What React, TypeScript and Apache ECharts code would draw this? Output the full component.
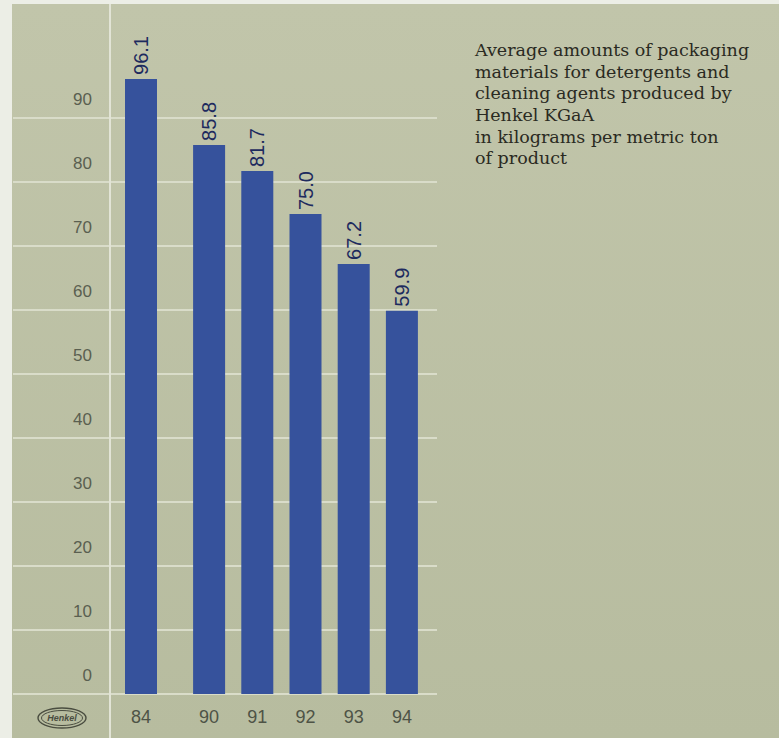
import React, { useEffect, useRef } from "react";
import * as echarts from "echarts";

const years = ["84", "90", "91", "92", "93", "94"];
const values = [96.1, 85.8, 81.7, 75.0, 67.2, 59.9];
const yMin = 0;
const yMax = 90;
const yStep = 10;
const noteLines = [
  "Average amounts of packaging",
  "materials for detergents and",
  "cleaning agents produced by",
  "Henkel KGaA",
  "in kilograms per metric ton",
  "of product",
];

export default function App() {
  const ref = useRef<HTMLDivElement>(null);
  useEffect(() => {
    if (!ref.current) return;
    const chart = echarts.init(ref.current, null, { renderer: "svg" });
    const barLabel = {
      show: true,
      position: "top",
      rotate: 90,
      align: "left",
      verticalAlign: "middle",
      distance: 4,
      fontSize: 20,
      fontFamily: "Liberation Sans, Arial, sans-serif",
      color: "#1d2a5e",
      formatter: (p: any) => Number(p.value).toFixed(1),
    };
    const catAxis = (gi: number, data: string[]) => ({
      gridIndex: gi,
      type: "category",
      data,
      axisLine: { show: false },
      axisTick: { show: false },
      axisLabel: {
        margin: 14,
        fontSize: 18,
        color: "#4e5346",
        fontFamily: "Liberation Sans, Arial, sans-serif",
      },
    });
    const option: any = {
      animation: false,
      backgroundColor: "#eceee6",
      graphic: [
        {
          type: "rect",
          z: -10,
          shape: { x: 12, y: 4, width: 767, height: 734 },
          style: {
            fill: new echarts.graphic.LinearGradient(0, 0, 0, 1, [
              { offset: 0, color: "#c1c5aa" },
              { offset: 1, color: "#b7bc9f" },
            ]),
          },
          silent: true,
        },
        {
          type: "line",
          z: 5,
          shape: { x1: 110, y1: 4, x2: 110, y2: 738 },
          style: { stroke: "#e2e4d6", lineWidth: 2 },
          silent: true,
        },
        {
          type: "ellipse",
          z: 5,
          shape: { cx: 62, cy: 718, rx: 24, ry: 10 },
          style: { fill: "none", stroke: "#4a4d40", lineWidth: 1.4 },
        },
        {
          type: "ellipse",
          z: 5,
          shape: { cx: 62, cy: 718, rx: 20.5, ry: 7.5 },
          style: { fill: "none", stroke: "#4a4d40", lineWidth: 1 },
        },
        {
          type: "text",
          z: 5,
          x: 62,
          y: 718,
          style: {
            text: "Henkel",
            fontSize: 9,
            fontStyle: "italic",
            fontWeight: "bold",
            fontFamily: "Liberation Sans, Arial, sans-serif",
            fill: "#4a4d40",
            align: "center",
            verticalAlign: "middle",
          },
        },
        {
          type: "text",
          z: 5,
          x: 475,
          y: 39,
          style: {
            text: noteLines.join("\n"),
            fontSize: 17.5,
            lineHeight: 21.7,
            fontFamily: "DejaVu Serif, serif",
            fill: "#2a2a22",
            align: "left",
            verticalAlign: "top",
          },
        },
      ],
      grid: [
        { left: 13, right: 342, top: 118, bottom: 44 },
        { left: 117, right: 614, top: 54, bottom: 44 },
        { left: 185, right: 353, top: 54, bottom: 44 },
      ],
      xAxis: [
        { gridIndex: 0, type: "value", show: false, min: 0, max: 1 },
        catAxis(1, years.slice(0, 1)),
        catAxis(2, years.slice(1)),
      ],
      yAxis: [
        {
          gridIndex: 0,
          type: "value",
          min: yMin,
          max: yMax,
          interval: yStep,
          axisLine: { show: false },
          axisTick: { show: false },
          splitLine: { lineStyle: { color: "#d9dcc9", width: 2 } },
          axisLabel: {
            inside: true,
            margin: 79,
            align: "right",
            verticalAlign: "bottom",
            padding: [0, 0, 10, 0],
            fontSize: 17,
            color: "#5a5f50",
            fontFamily: "Liberation Sans, Arial, sans-serif",
          },
        },
        { gridIndex: 1, type: "value", min: 0, max: 100, show: false },
        { gridIndex: 2, type: "value", min: 0, max: 100, show: false },
      ],
      series: [
        {
          type: "bar",
          xAxisIndex: 1,
          yAxisIndex: 1,
          data: values.slice(0, 1),
          barWidth: 32,
          itemStyle: { color: "#36529c" },
          label: barLabel,
          z: 3,
        },
        {
          type: "bar",
          xAxisIndex: 2,
          yAxisIndex: 2,
          data: values.slice(1),
          barWidth: 32,
          itemStyle: { color: "#36529c" },
          label: barLabel,
          z: 3,
        },
      ],
    };
    chart.setOption(option);
    return () => chart.dispose();
  }, []);
  return (
    <div
      ref={ref}
      style={{ position: "fixed", left: 0, top: 0, width: 779, height: 738 }}
    />
  );
}
